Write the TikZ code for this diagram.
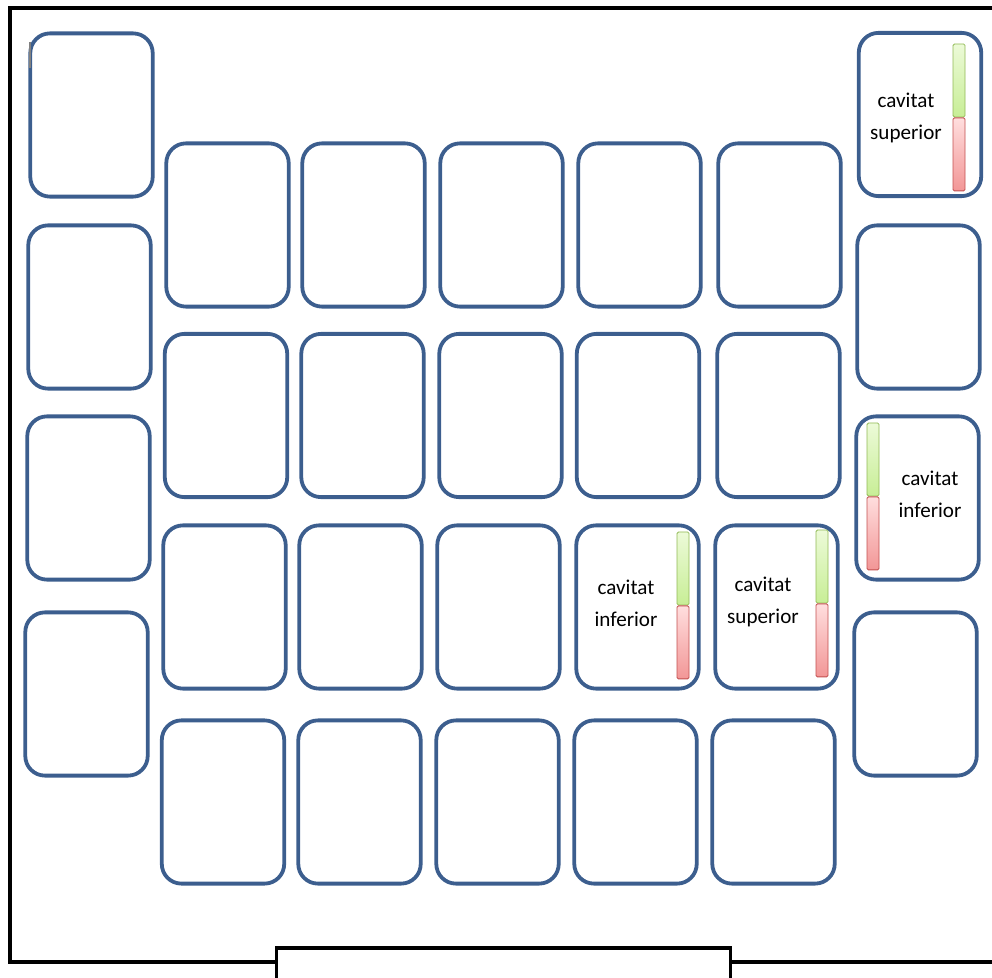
\documentclass[tikz,border=0pt]{standalone}
\usepackage{fontspec}
\setmainfont{Carlito}
\usetikzlibrary{positioning}
\definecolor{SeatBlue}{RGB}{60,94,142}
\definecolor{BarGreenLine}{RGB}{145,185,85}
\definecolor{BarGreenTop}{RGB}{236,250,216}
\definecolor{BarGreenBot}{RGB}{200,238,150}
\definecolor{BarRedLine}{RGB}{195,80,80}
\definecolor{BarRedTop}{RGB}{255,222,222}
\definecolor{BarRedBot}{RGB}{242,150,150}

\begin{document}
\begin{tikzpicture}[
    x=0.025cm,
    y=-0.025cm,
    font=\fontsize{15}{22.6}\selectfont,
    seat/.style={
        draw=SeatBlue,
        line width=2.7pt,
        rounded corners=14pt,
        minimum width=3.06cm,
        minimum height=4.08cm,
        inner sep=0pt
    },
    cavtext/.style={
        align=center,
        inner sep=0pt
    },
    greenbar/.style={
        draw=BarGreenLine,
        line width=0.6pt,
        rounded corners=1pt,
        top color=BarGreenTop,
        bottom color=BarGreenBot,
        minimum width=0.3cm,
        minimum height=1.825cm,
        inner sep=0pt
    },
    redbar/.style={
        draw=BarRedLine,
        line width=0.6pt,
        rounded corners=1pt,
        top color=BarRedTop,
        bottom color=BarRedBot,
        minimum width=0.3cm,
        minimum height=1.825cm,
        inner sep=0pt
    },
    frame/.style={
        draw=black,
        line width=2.4pt
    }
]

\useasboundingbox (0,0) rectangle (992,978);
\clip (0,0) rectangle (992,978);

% room outline and the table at the bottom
\draw[frame] (1010,962) -- (10,962) -- (10,8) -- (1010,8);
\node[frame, fill=white, inner sep=0pt, minimum width=11.35cm, minimum height=1.1cm] (desk) at (503.5,970) {};

% left column
\node[seat] (left1) at (91.5,115) {};
\node[seat] (left2) at (89.5,307) {};
\node[seat] (left3) at (88.5,498) {};
\node[seat] (left4) at (86.5,694) {};
\draw[gray, line width=0.8pt] (30,42) -- (30,68);

% middle block, row 1
\node[seat] (m11) at (227.5,225) {};
\node[seat] (m12) at (363.5,225) {};
\node[seat] (m13) at (501.5,225) {};
\node[seat] (m14) at (639.5,225) {};
\node[seat] (m15) at (779.5,225) {};

% row 2
\node[seat] (m21) at (226,415.5) {};
\node[seat] (m22) at (362.5,415.5) {};
\node[seat] (m23) at (500.5,415.5) {};
\node[seat] (m24) at (638,415.5) {};
\node[seat] (m25) at (778.5,415.5) {};

% row 3
\node[seat] (m31) at (224.5,607) {};
\node[seat] (m32) at (360.5,607) {};
\node[seat] (m33) at (498.5,607) {};
\node[seat] (m34) at (637.5,607) {};
\node[seat] (m35) at (776.5,607) {};

% row 4
\node[seat] (m41) at (223,802) {};
\node[seat] (m42) at (359.5,802) {};
\node[seat] (m43) at (497.5,802) {};
\node[seat] (m44) at (635.5,802) {};
\node[seat] (m45) at (773.5,802) {};

% right column
\node[seat] (right1) at (920,114.5) {};
\node[seat] (right2) at (918.5,307) {};
\node[seat] (right3) at (917.5,498) {};
\node[seat] (right4) at (915.5,694) {};

% level bars and labels
\node[greenbar] (r1g) at (959,80.5) {};
\node[redbar, below=0pt of r1g] (r1r) {};
\node[cavtext] (r1t) at (906,118) {cavitat\\superior};

\node[greenbar] (r3g) at (873,459.5) {};
\node[redbar, below=0pt of r3g] (r3r) {};
\node[cavtext] (r3t) at (930,494) {cavitat\\inferior};

\node[greenbar] (m34g) at (683,568.5) {};
\node[redbar, below=0pt of m34g] (m34r) {};
\node[cavtext] (m34t) at (626,603) {cavitat\\inferior};

\node[greenbar] (m35g) at (822,566.5) {};
\node[redbar, below=0pt of m35g] (m35r) {};
\node[cavtext] (m35t) at (763,602) {cavitat\\superior};

\end{tikzpicture}
\end{document}
